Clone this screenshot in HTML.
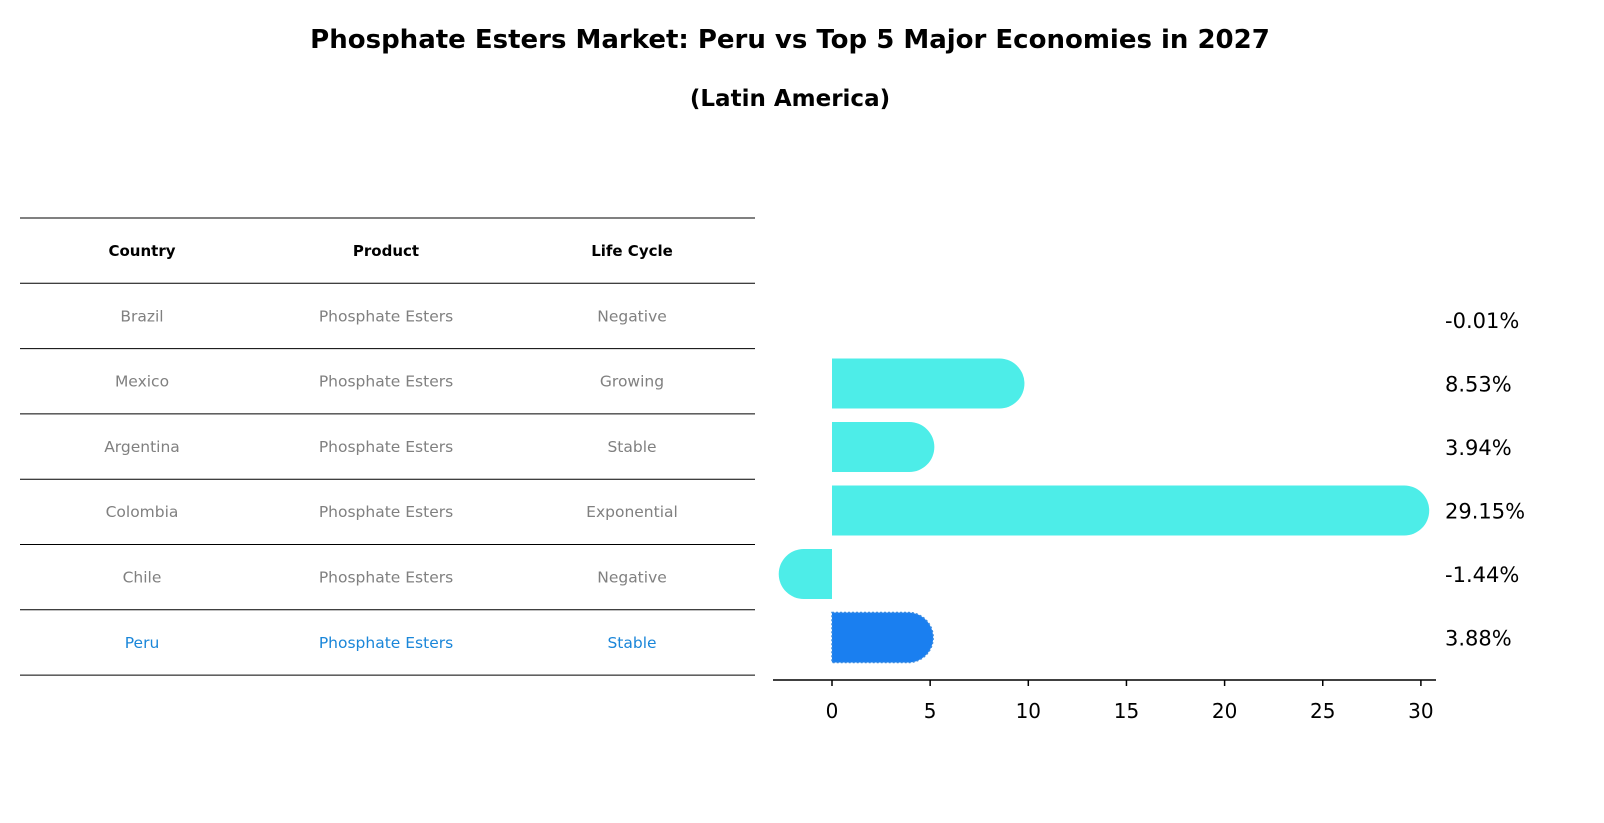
<!DOCTYPE html>
<html><head><meta charset="utf-8"><style>
html,body{margin:0;padding:0;background:#fff;overflow:hidden;width:1604px;height:823px}
svg{display:block}
</style></head><body>
<svg width="1604" height="823" xmlns="http://www.w3.org/2000/svg" font-family="DejaVu Sans, Liberation Sans, sans-serif">
<text x="790" y="48" text-anchor="middle" font-size="26" font-weight="bold">Phosphate Esters Market: Peru vs Top 5 Major Economies in 2027</text>
<text x="790" y="106" text-anchor="middle" font-size="23" font-weight="bold">(Latin America)</text>
<g id="table"></g>
<g id="chart"></g>
</svg>
<script>
const countries=["Brazil","Mexico","Argentina","Colombia","Chile","Peru"];
const products=["Phosphate Esters","Phosphate Esters","Phosphate Esters","Phosphate Esters","Phosphate Esters","Phosphate Esters"];
const lifecycle=["Negative","Growing","Stable","Exponential","Negative","Stable"];
const values=[-0.01,8.53,3.94,29.15,-1.44,3.88];
const valueLabels=["-0.01%","8.53%","3.94%","29.15%","-1.44%","3.88%"];
const xTicks=[0,5,10,15,20,25,30];
const NS="http://www.w3.org/2000/svg";
function mk(tag,attrs,parent){const e=document.createElementNS(NS,tag);for(const k in attrs)e.setAttribute(k,attrs[k]);parent.appendChild(e);return e;}
const tbl=document.getElementById('table');
const rowY=i=>218+65.3*i;
for(let i=0;i<=7;i++){const l=mk('line',{x1:20,x2:755,y1:rowY(i),y2:rowY(i),stroke:'#000','stroke-width':1},tbl);

}
const colX=[142,386,632];
["Country","Product","Life Cycle"].forEach((h,j)=>{const t=mk('text',{x:colX[j],y:rowY(0)+38,'text-anchor':'middle','font-size':15,'font-weight':'bold'},tbl);t.textContent=h;

});
countries.forEach((c,i)=>{const col=c==="Peru"?"#1a86d9":"#808080";[c,products[i],lifecycle[i]].forEach((v,j)=>{const t=mk('text',{x:colX[j],y:rowY(i+1)+38,'text-anchor':'middle','font-size':15.5,fill:col},tbl);t.textContent=v;

});});
const ch=document.getElementById('chart');
const x=v=>832+v*19.63;
const yc=i=>320+63.5*i;
const r=25;
values.forEach((v,i)=>{const y=yc(i),x0=x(0),x1=x(v),col=countries[i]==="Peru"?"#1a7ff0":"#4dede8";
let d;
if(Math.abs(v)<0.05){d="";}
else if(v>0){d=`M${x0},${y-r}L${x1},${y-r}A${r},${r} 0 0 1 ${x1},${y+r}L${x0},${y+r}Z`;}
else{d=`M${x0},${y-r}L${x1},${y-r}A${r},${r} 0 0 0 ${x1},${y+r}L${x0},${y+r}Z`;}
if(d){const p=mk('path',{d:d,fill:col},ch);
if(countries[i]==="Peru"){p.setAttribute('stroke','#3b8be0');p.setAttribute('stroke-dasharray','2,2');p.setAttribute('stroke-width','1.5');}

}
const t=mk('text',{x:1445,y:y+8,'font-size':21},ch);t.textContent=valueLabels[i];

});
const ax=mk('line',{x1:773,x2:1436,y1:680,y2:680,stroke:'#000','stroke-width':1.5},ch);


xTicks.forEach(v=>{const l=mk('line',{x1:x(v),x2:x(v),y1:680,y2:686,stroke:'#000','stroke-width':1.5},ch);


const t=mk('text',{x:x(v),y:718,'text-anchor':'middle','font-size':20},ch);t.textContent=v;

});
</script>
</body></html>
